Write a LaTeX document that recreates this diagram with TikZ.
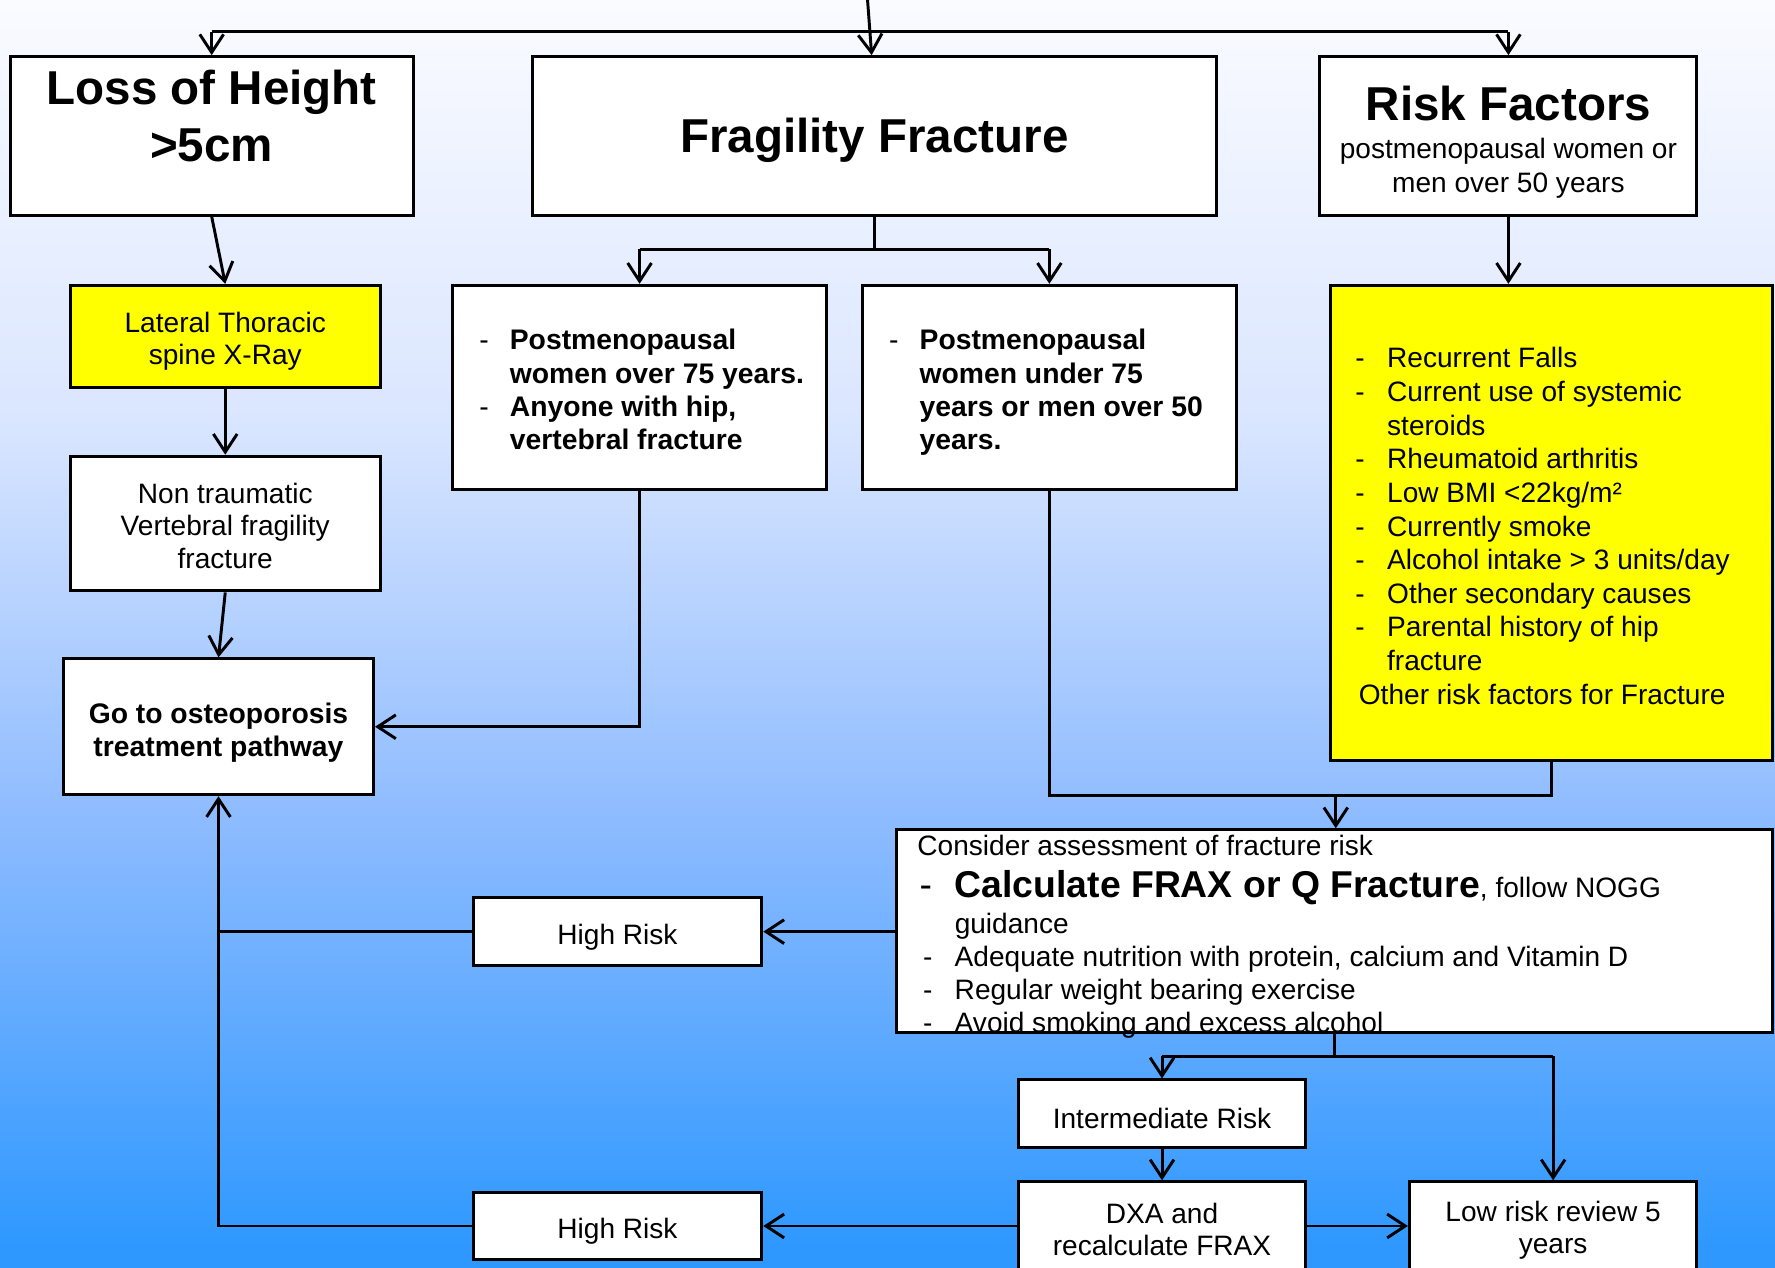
\documentclass[tikz,border=0pt]{standalone}
\usepackage{fontspec}
\setmainfont{Liberation Sans}
\usetikzlibrary{arrows.meta,calc}
\definecolor{bgT}{RGB}{250,251,255}
\definecolor{bgA}{RGB}{218,230,255}
\definecolor{bgB}{RGB}{141,187,255}
\definecolor{bgC}{RGB}{46,152,255}
\definecolor{yel}{RGB}{255,255,0}
\pgfdeclareverticalshading{bgshade}{100bp}{color(0bp)=(bgC); color(25.8bp)=(bgC); color(42.65bp)=(bgB); color(58.45bp)=(bgA); color(75bp)=(bgT); color(100bp)=(bgT)}
\newcommand\myBody{\fontsize{12.4}{14.8}\selectfont}
\newcommand\myTitle{\fontsize{21}{25.5}\selectfont\bfseries}
\newcommand\dA{\makebox[13.5pt][l]{\mdseries -}}
\newcommand\dR{\makebox[14pt][l]{-}}
\newcommand\dC{\makebox[16.5pt][l]{\hspace{2.5pt}-}}
\begin{document}
\begin{tikzpicture}[x=0.5pt,y=-0.5pt,
  box/.style={draw=black, line width=1.3pt, fill=white, inner sep=0pt},
  titletext/.style={font=\myTitle, align=center, inner sep=0pt},
  plaintext/.style={font=\myBody, align=center, inner sep=0pt},
  listtext/.style={anchor=base west, inner sep=0pt},
  conn/.style={line width=1.3pt, draw=black},
  arr/.style={conn, -{Straight Barb[length=8pt,width=10.5pt]}}]
\useasboundingbox (0,0) rectangle (1568,1120);
\begin{scope}
\clip (0,0) rectangle (1568,1120);
\path[shading=bgshade] (0,0) rectangle (1568,1120);

% top row
\node[box, minimum width=178pt, minimum height=70pt] (loss) at (187,120) {};
\node[titletext] (losstxt) at (187,102.5) {Loss of Height\\>5cm};
\node[box, minimum width=302.5pt, minimum height=70pt] (frag) at (772.5,120) {};
\node[titletext] (fragtxt) at ($(frag)+(0,4)$) {Fragility Fracture};
\node[box, minimum width=166.5pt, minimum height=70pt] (risk) at (1332.5,120) {};
\node[titletext] (risktitle) at (1332.5,91) {Risk Factors};
\node[plaintext, font=\fontsize{12.4}{15}\selectfont] (risksub) at (1332.5,149) {postmenopausal women or\\men over 50 years};

% left column
\node[box, fill=yel, minimum width=137pt, minimum height=45pt] (lat) at (199,297) {};
\node[plaintext, font=\fontsize{12.4}{14}\selectfont] (lattxt) at ($(lat)+(0,4.5)$) {Lateral Thoracic\\spine X-Ray};
\node[box, minimum width=137pt, minimum height=59.5pt] (non) at (199,462.5) {};
\node[plaintext, font=\fontsize{12.4}{14.5}\selectfont] (nontxt) at ($(non)+(0,2)$) {Non traumatic\\Vertebral fragility\\fracture};
\node[box, minimum width=137pt, minimum height=60pt] (go) at (193,642) {};
\node[plaintext, font=\fontsize{12.5}{14.5}\selectfont\bfseries] (gotxt) at ($(go)+(0,5)$) {Go to osteoporosis\\treatment pathway};

% fragility branches
\node[box, minimum width=165pt, minimum height=90pt] (boxA) at (565,342) {};
\node[listtext, font=\fontsize{12.5}{14.7}\selectfont\bfseries] (boxAtxt) at (423,309) {\begin{tabular}[t]{@{}l@{}l@{}}
\dA & Postmenopausal\\
 & women over 75 years.\\
\dA & Anyone with hip,\\
 & vertebral fracture
\end{tabular}};
\node[box, minimum width=165pt, minimum height=90pt] (boxB) at (927,342) {};
\node[listtext, font=\fontsize{12.5}{14.7}\selectfont\bfseries] (boxBtxt) at (785,309) {\begin{tabular}[t]{@{}l@{}l@{}}
\dA & Postmenopausal\\
 & women under 75\\
 & years or men over 50\\
 & years.
\end{tabular}};

% risk list
\node[box, fill=yel, minimum width=195.5pt, minimum height=210pt] (riskl) at (1370.5,462) {};
\node[listtext, font=\fontsize{12.4}{14.85}\selectfont] (riskltxt) at (1197,325) {\begin{tabular}[t]{@{}l@{}l@{}}
\dR & Recurrent Falls\\
\dR & Current use of systemic\\
 & steroids\\
\dR & Rheumatoid arthritis\\
\dR & Low BMI <22kg/m²\\
\dR & Currently smoke\\
\dR & Alcohol intake > 3 units/day\\
\dR & Other secondary causes\\
\dR & Parental history of hip\\
 & fracture\\
\multicolumn{2}{@{}l@{}}{\hspace{1.5pt}Other risk factors for Fracture}
\end{tabular}};

% assessment
\node[box, minimum width=387pt, minimum height=89.5pt] (cons) at (1179,822.5) {};
\node[listtext, font=\fontsize{12.4}{14.6}\selectfont] (constxt) at (810,756) {\begin{tabular}[t]{@{}l@{}l@{}}
\multicolumn{2}{@{}l@{}}{Consider assessment of fracture risk}\\[2.1pt]
\makebox[16.5pt][l]{\hspace{1pt}{\fontsize{16.5}{19.8}\selectfont -}} & {\fontsize{16.5}{19.8}\selectfont\bfseries Calculate FRAX or Q Fracture}, follow NOGG\\[1.2pt]
 & guidance\\
\dC & Adequate nutrition with protein, calcium and Vitamin D\\
\dC & Regular weight bearing exercise\\
\dC & Avoid smoking and excess alcohol
\end{tabular}};

% lower boxes
\node[box, minimum width=127.5pt, minimum height=30pt] (high1) at (545.5,823) {};
\node[plaintext] (high1txt) at ($(high1)+(0,5)$) {High Risk};
\node[box, minimum width=127.5pt, minimum height=30pt] (high2) at (545.5,1083) {};
\node[plaintext] (high2txt) at ($(high2)+(0,5)$) {High Risk};
\node[box, minimum width=126.5pt, minimum height=30pt] (inter) at (1026.5,984) {};
\node[plaintext] (intertxt) at ($(inter)+(0,4)$) {Intermediate Risk};
\node[box, minimum width=126.5pt, minimum height=39pt] (dxa) at (1026.5,1083) {};
\node[plaintext, font=\fontsize{12.4}{14}\selectfont] (dxatxt) at ($(dxa)+(0,3)$) {DXA and\\recalculate FRAX};
\node[box, minimum width=127pt, minimum height=39pt] (low) at (1372,1083) {};
\node[plaintext, font=\fontsize{12.4}{14}\selectfont] (lowtxt) at ($(low)+(0,3.5)$) {Low risk review 5\\years};

% connectors
\coordinate (src) at (766,-5);
\coordinate (bar) at (0,28);
\coordinate (fsplit) at (0,220);
\coordinate (join) at (1180,703);
\coordinate (csplit) at (0,933);
\draw[arr] (src) -- ($(frag.north)+(-2.5,0)$);
\draw[conn] (loss.north |- bar) -- (risk.north |- bar);
\draw[arr] (loss.north |- bar) -- (loss.north);
\draw[arr] (risk.north |- bar) -- (risk.north);
\draw[arr] (loss.south) -- (lat.north);
\draw[arr] (lat.south) -- (non.north);
\draw[arr] (non.south) -- (go.north);
\draw[conn] (frag.south) -- (frag.south |- fsplit);
\draw[conn] (boxA.north |- fsplit) -- (boxB.north |- fsplit);
\draw[arr] (boxA.north |- fsplit) -- (boxA.north);
\draw[arr] (boxB.north |- fsplit) -- (boxB.north);
\draw[arr] (risk.south) -- (risk.south |- riskl.north);
\draw[arr] (boxA.south) |- (go.east);
\draw[conn] (boxB.south) |- (join);
\draw[conn] (riskl.south) |- (join);
\draw[arr] (join) -- (join |- cons.north);
\draw[arr] (cons.west |- high1.east) -- (high1.east);
\draw[conn] (high1.west) -- (high1.west -| go.south);
\draw[arr] (high2.west) -| (go.south);
\draw[conn] (cons.south) -- (cons.south |- csplit);
\draw[conn] (inter.north |- csplit) -- (low.north |- csplit);
\draw[arr] (inter.north |- csplit) -- (inter.north);
\draw[arr] (low.north |- csplit) -- (low.north);
\draw[arr] (inter.south) -- (dxa.north);
\draw[arr] (dxa.east) -- (low.west);
\draw[arr] (dxa.west) -- (high2.east);
\end{scope}
\end{tikzpicture}
\end{document}
